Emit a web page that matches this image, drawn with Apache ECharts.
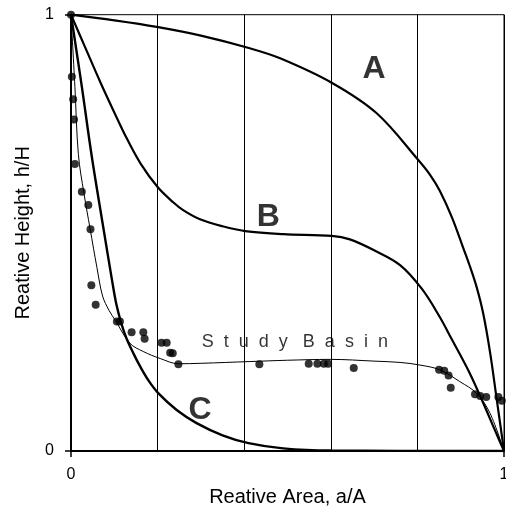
<!DOCTYPE html>
<html>
<head>
<meta charset="utf-8">
<script src="https://cdn.jsdelivr.net/npm/echarts@6/dist/echarts.min.js"></script>
<style>html,body{margin:0;padding:0;background:#fff;}#c{width:506px;height:513px;}</style>
</head>
<body>
<div id="c"></div>
<script>
// ---- data ----
const curveA = [[0,1],[0.1,0.987],[0.198,0.972],[0.3,0.952],[0.413,0.923],[0.483,0.9],[0.602,0.844],[0.706,0.774],[0.802,0.667],[0.83,0.632],[0.852,0.596],[0.88,0.535],[0.906,0.465],[0.921,0.424],[0.937,0.375],[0.952,0.315],[0.968,0.225],[0.983,0.12],[1,0]];
const curveB = [[0,1],[0.035,0.92],[0.067,0.847],[0.1,0.776],[0.129,0.716],[0.16,0.66],[0.2,0.605],[0.236,0.57],[0.259,0.552],[0.298,0.531],[0.35,0.515],[0.402,0.504],[0.49,0.497],[0.602,0.493],[0.644,0.485],[0.7,0.46],[0.76,0.426],[0.81,0.372],[0.85,0.31],[0.88,0.255],[0.92,0.18],[0.952,0.11],[0.978,0.05],[1,0]];
const curveC = [[0,1],[0.025,0.835],[0.048,0.675],[0.075,0.51],[0.095,0.39],[0.105,0.335],[0.117,0.29],[0.129,0.256],[0.145,0.222],[0.159,0.195],[0.18,0.16],[0.202,0.132],[0.244,0.094],[0.29,0.064],[0.35,0.036],[0.41,0.018],[0.49,0.006],[0.6,0.001],[1,0]];
const studyCurve = [[0,1],[0.009,0.835],[0.017,0.68],[0.03,0.59],[0.044,0.51],[0.06,0.42],[0.073,0.355],[0.088,0.322],[0.102,0.30],[0.136,0.247],[0.167,0.228],[0.206,0.212],[0.248,0.200],[0.3,0.201],[0.413,0.205],[0.5,0.208],[0.6,0.21],[0.7,0.206],[0.76,0.203],[0.806,0.197],[0.852,0.186],[0.898,0.159],[0.937,0.132],[0.968,0.086],[1,0]];
const studyPoints = [[0,1],[0.002,0.858],[0.005,0.806],[0.007,0.76],[0.009,0.658],[0.025,0.594],[0.04,0.564],[0.045,0.508],[0.047,0.38],[0.057,0.335],[0.106,0.297],[0.113,0.297],[0.14,0.272],[0.167,0.272],[0.17,0.257],[0.209,0.248],[0.221,0.248],[0.229,0.225],[0.235,0.224],[0.248,0.199],[0.435,0.199],[0.549,0.2],[0.569,0.2],[0.584,0.2],[0.594,0.2],[0.653,0.19],[0.85,0.186],[0.862,0.184],[0.872,0.173],[0.877,0.145],[0.933,0.13],[0.945,0.126],[0.959,0.124],[0.987,0.124],[0.995,0.115]];
const curveNames = ['A','B','C'];
const studyName = 'S  t  u  d  y   B  a  s  i  n';
const annotations = [[0.700,0.8755,'A'],[0.4557,0.535,'B'],[0.298,0.0944,'C']];
const studyLabelAt = [0.517,0.249];
const xTitle = 'Reative Area, a/A';
const yTitle = 'Reative Height, h/H';
const gridLineStep = 0.2;

const chart = echarts.init(document.getElementById('c'), null, {renderer:'canvas'});
const font = 'Liberation Sans, Arial, sans-serif';
const lineSeries = (data, w) => ({
  type:'line', data, xAxisIndex:1, yAxisIndex:0, showSymbol:false, smooth:0.35,
  lineStyle:{color:'#000', width:w}, silent:true, z:3
});
chart.setOption({
  animation:false,
  backgroundColor:'#fff',
  grid:{left:71, right:2, top:14.7, bottom:62, show:true, borderColor:'#000', borderWidth:1,
        containLabel:false, outerBoundsMode:'none'},
  xAxis:[
    {type:'value', min:0, max:1, interval:gridLineStep, position:'top',
     axisLine:{show:false}, axisTick:{show:false}, axisLabel:{show:false},
     splitLine:{show:true, lineStyle:{color:'#000', width:1}}},
    {type:'value', min:0, max:1, interval:1, position:'bottom',
     name:xTitle, nameLocation:'middle', nameGap:28,
     nameTextStyle:{fontFamily:font, fontSize:20, color:'#000'},
     axisLine:{show:true, lineStyle:{color:'#000', width:2}},
     axisTick:{show:true, inside:false, length:6, lineStyle:{color:'#000', width:1.5}},
     axisLabel:{show:true, margin:16, fontFamily:font, fontSize:16, color:'#000'},
     splitLine:{show:false}}
  ],
  yAxis:[
    {type:'value', min:0, max:1, interval:1, position:'left',
     name:yTitle, nameLocation:'middle', nameGap:38,
     nameTextStyle:{fontFamily:font, fontSize:20, color:'#000'},
     axisLine:{show:true, lineStyle:{color:'#000', width:2}},
     axisTick:{show:true, inside:false, length:6, lineStyle:{color:'#000', width:1.5}},
     axisLabel:{show:true, margin:17, fontFamily:font, fontSize:16, color:'#000'},
     splitLine:{show:false}},
    {type:'value', min:0, max:1, interval:1, position:'right',
     axisLine:{show:true, lineStyle:{color:'#000', width:2}},
     axisTick:{show:false}, axisLabel:{show:false}, splitLine:{show:false}}
  ],
  series:[
    Object.assign(lineSeries(curveA, 2.2), {name:curveNames[0]}),
    Object.assign(lineSeries(curveB, 2.2), {name:curveNames[1]}),
    Object.assign(lineSeries(curveC, 2.4), {name:curveNames[2]}),
    Object.assign(lineSeries(studyCurve, 1), {name:'Study Basin'}),
    {type:'scatter', data:studyPoints, xAxisIndex:1, yAxisIndex:0, symbol:'circle', symbolSize:8,
     itemStyle:{color:'#000'}, silent:true, z:4},
    {type:'scatter', xAxisIndex:1, yAxisIndex:0, symbolSize:0, silent:true, z:5,
     data:annotations.map(a => ({value:[a[0],a[1]], name:a[2]})),
     label:{show:true, position:'inside', formatter:p => p.name,
            fontFamily:'Liberation Sans Narrow, Liberation Sans, Arial, sans-serif',
            fontWeight:'bold', fontSize:32, color:'#000'}},
    {type:'scatter', xAxisIndex:1, yAxisIndex:0, symbolSize:0, silent:true, z:5,
     data:[{value:studyLabelAt, name:studyName}],
     label:{show:true, position:'inside', formatter:p => p.name,
            fontFamily:font, fontSize:18, color:'#000'}}
  ]
});
</script>
</body>
</html>
